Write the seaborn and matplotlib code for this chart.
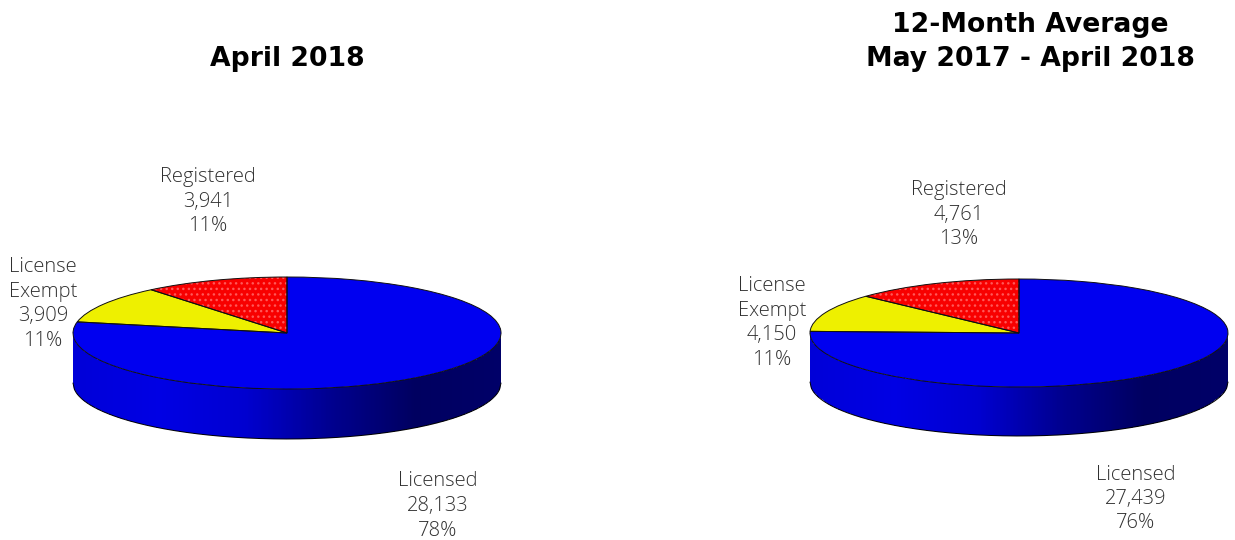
# Two flat pies drawn with a fake 3D wall, same as the monthly report.
import numpy as np
import matplotlib.pyplot as plt
import matplotlib.patches as mpatches
import seaborn as sns

categories = ["Licensed", "License\nExempt", "Registered"]
april_values = [28133, 3909, 3941]
april_percent = [78, 11, 11]
average_values = [27439, 4150, 4761]
average_percent = [76, 11, 13]
april_title = "April 2018"
average_title = "12-Month Average\nMay 2017 - April 2018"

W, H = 1235, 540
slice_colors = ["#0000f0", "#eef000", "#f80000"]
wall_shades = ["#0000d8", "#0000e4", "#0000d0", "#000090", "#000060", "#000068"]


def px_axes(fig, x0, y0, x1, y1):
    return fig.add_axes([x0 / W, 1 - y1 / H, (x1 - x0) / W, (y1 - y0) / H])


def draw_pie(fig, values, cx, cy, rx, ry, depth):
    ax = px_axes(fig, cx - rx - 2, cy - ry - 2, cx + rx + 2, cy + ry + depth + 2)
    drop = depth / ry

    # side wall, gradient clipped to the lower half of the ellipse
    xs = np.linspace(-1, 1, 300)
    top = np.sqrt(1 - xs ** 2)
    outline = np.r_[np.c_[xs, -top], np.c_[xs[::-1], -top[::-1] - drop]]
    wall_path = mpatches.Polygon(outline, closed=True, fc="none", ec="none", transform=ax.transData)
    ax.add_patch(wall_path)
    cmap = sns.blend_palette(wall_shades, as_cmap=True)
    mesh = ax.pcolormesh(xs, [-1 - drop, 0], np.tile(xs[:-1], (1, 1)), cmap=cmap, shading="flat", rasterized=True)
    mesh.set_clip_path(wall_path)
    ax.plot(xs, -top - drop, color="black", lw=0.7)

    # the pie itself, squashed by the auto aspect
    wedges, _ = ax.pie(values, colors=slice_colors, startangle=90, counterclock=False, radius=1,
                       wedgeprops={"linewidth": 0})
    wedges[2].set_hatch("...")
    wedges[2].set_edgecolor("#ff5858")
    ax.pie(values, colors=["none"] * 3, startangle=90, counterclock=False, radius=1,
           wedgeprops={"edgecolor": "#101010", "linewidth": 0.7})
    ax.set_aspect("auto")
    ax.set_xlim(-1 - 2 / rx, 1 + 2 / rx)
    ax.set_ylim(-1 - drop - 2 / ry, 1 + 2 / ry)
    ax.axis("off")


def put_labels(fig, values, percent, spots):
    for name, val, pct, (x, y) in zip(categories, values, percent, spots):
        txt = f"{name}\n{val:,}\n{pct}%"
        fig.text(x / W, 1 - y / H, txt, ha="center", va="center", fontsize=14.5,
                 color="#303030", linespacing=1.3, fontweight="light")


def main():
    sns.set_theme(style="white")
    plt.rcParams["font.family"] = ["Open Sans", "DejaVu Sans"]
    plt.rcParams["hatch.linewidth"] = 1.0
    fig = plt.figure(figsize=(W / 100, H / 100), dpi=100)

    draw_pie(fig, april_values, 287, 333, 214, 56, 50)
    draw_pie(fig, average_values, 1019, 333, 209, 54, 49)

    put_labels(fig, april_values, april_percent, [(438, 506), (43, 304), (208, 202)])
    put_labels(fig, average_values, average_percent, [(1136, 499), (772, 323), (959, 215)])

    fig.text(287 / W, 1 - 59 / H, april_title, ha="center", va="center", fontsize=19.2,
             fontweight="bold", family="DejaVu Sans", color="black")
    fig.text(1030 / W, 1 - 42 / H, average_title, ha="center", va="center", fontsize=19.2,
             fontweight="bold", family="DejaVu Sans", color="black", linespacing=1.4)

    fig.savefig("out.png", dpi=100)


if __name__ == "__main__":
    main()
